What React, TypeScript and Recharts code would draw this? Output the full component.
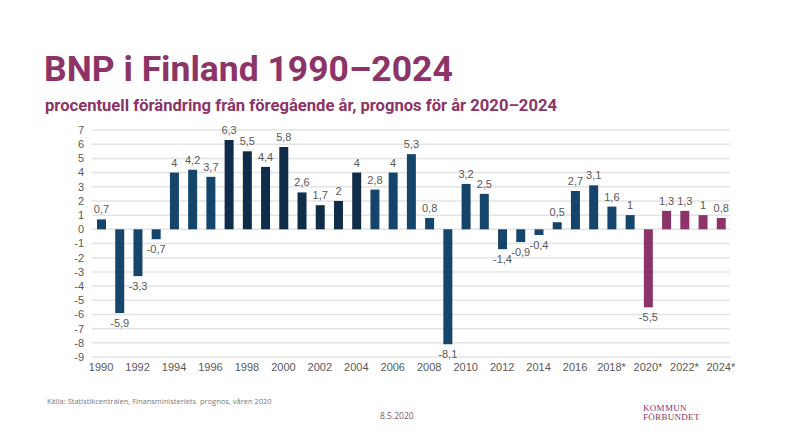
import React from "react";
import { BarChart, Bar, CartesianGrid, XAxis, YAxis, Cell, LabelList } from "recharts";

const years = [
  "1990", "1991", "1992", "1993", "1994", "1995", "1996", "1997", "1998", "1999",
  "2000", "2001", "2002", "2003", "2004", "2005", "2006", "2007", "2008", "2009",
  "2010", "2011", "2012", "2013", "2014", "2015", "2016", "2017", "2018*", "2019*",
  "2020*", "2021*", "2022*", "2023*", "2024*",
];
const growth = [
  0.7, -5.9, -3.3, -0.7, 4, 4.2, 3.7, 6.3, 5.5, 4.4,
  5.8, 2.6, 1.7, 2, 4, 2.8, 4, 5.3, 0.8, -8.1,
  3.2, 2.5, -1.4, -0.9, -0.4, 0.5, 2.7, 3.1, 1.6, 1,
  -5.5, 1.3, 1.3, 1, 0.8,
];
const yTicks = [-9, -8, -7, -6, -5, -4, -3, -2, -1, 0, 1, 2, 3, 4, 5, 6, 7];

const data = years.map((year, i) => ({ year, value: growth[i] }));

const PURPLE = "#8c3467";
const BLUE = "#16456b";
const DARK = "#0f2d48";

// prognosår lila, 1997-2004 mörkare blå
const barColor = (year: string) => {
  const y = parseInt(year, 10);
  if (y >= 2020) return PURPLE;
  if (y >= 1997 && y <= 2004) return DARK;
  return BLUE;
};

const fmt = (v: number) => String(v).replace(".", ",");

const ValueLabel = (props: any) => {
  const { x, y, width, height, value } = props;
  const cx = x + width / 2;
  const top = Math.min(y, y + height);
  const bottom = Math.max(y, y + height);
  const ty = value < 0 ? bottom + 14 : top - 6;
  return (
    <text x={cx} y={ty} textAnchor="middle" fontSize={11} fill="#595959" fontFamily="Liberation Sans, Arial, sans-serif">
      {fmt(value)}
    </text>
  );
};

const App: React.FC = () => {
  return (
    <div style={{ position: "absolute", left: 0, top: 0, width: 790, height: 444, background: "#fff", overflow: "hidden" }}>
      <div
        style={{
          position: "absolute",
          left: 44,
          top: 52,
          fontFamily: "Roboto, sans-serif",
          fontWeight: 700,
          fontSize: 35.5,
          color: PURPLE,
          whiteSpace: "nowrap",
          lineHeight: 1,
        }}
      >
        BNP i Finland 1990–2024
      </div>
      <div
        style={{
          position: "absolute",
          left: 45,
          top: 98,
          fontFamily: "Roboto, sans-serif",
          fontWeight: 700,
          fontSize: 16.6,
          color: PURPLE,
          whiteSpace: "nowrap",
          lineHeight: 1,
        }}
      >
        procentuell förändring från föregående år, prognos för år 2020–2024
      </div>
      <div style={{ position: "absolute", left: 0, top: 0 }}>
        <BarChart width={790} height={444} data={data} margin={{ top: 130, right: 60, bottom: 57, left: 0 }} barSize={9}>
          <CartesianGrid vertical={false} stroke="#e4e4e4" strokeWidth={1.5} />
          <XAxis
            dataKey="year"
            interval={1}
            axisLine={false}
            tickLine={false}
            tickSize={4}
            tickMargin={2}
            height={30}
            tick={{ fontSize: 11, fill: "#595959", fontFamily: "Liberation Sans, Arial, sans-serif" }}
          />
          <YAxis
            domain={[-9, 7]}
            ticks={yTicks}
            interval={0}
            width={92}
            axisLine={false}
            tickLine={false}
            tickMargin={2}
            tick={{ fontSize: 11, fill: "#595959", fontFamily: "Liberation Sans, Arial, sans-serif" }}
          />
          <Bar dataKey="value" isAnimationActive={false}>
            {data.map((d) => (
              <Cell key={d.year} fill={barColor(d.year)} />
            ))}
            <LabelList dataKey="value" content={<ValueLabel />} />
          </Bar>
        </BarChart>
      </div>
      <div
        style={{
          position: "absolute",
          left: 47,
          top: 396,
          fontFamily: "Open Sans, sans-serif",
          fontSize: 7.5,
          color: "#7a7a7a",
          whiteSpace: "pre",
        }}
      >
        Källa: Statistikcentralen, Finansministeriets  prognos, våren 2020
      </div>
      <div
        style={{
          position: "absolute",
          left: 380,
          top: 410,
          fontFamily: "Open Sans, sans-serif",
          fontSize: 8.5,
          color: "#7a5a68",
        }}
      >
        8.5.2020
      </div>
      <div
        style={{
          position: "absolute",
          left: 643,
          top: 404,
          fontFamily: "Liberation Serif, serif",
          fontSize: 9,
          color: PURPLE,
          lineHeight: "9px",
          letterSpacing: 0.3,
        }}
      >
        <div>KOMMUN</div>
        <div>FÖRBUNDET</div>
      </div>
    </div>
  );
};

export default App;
